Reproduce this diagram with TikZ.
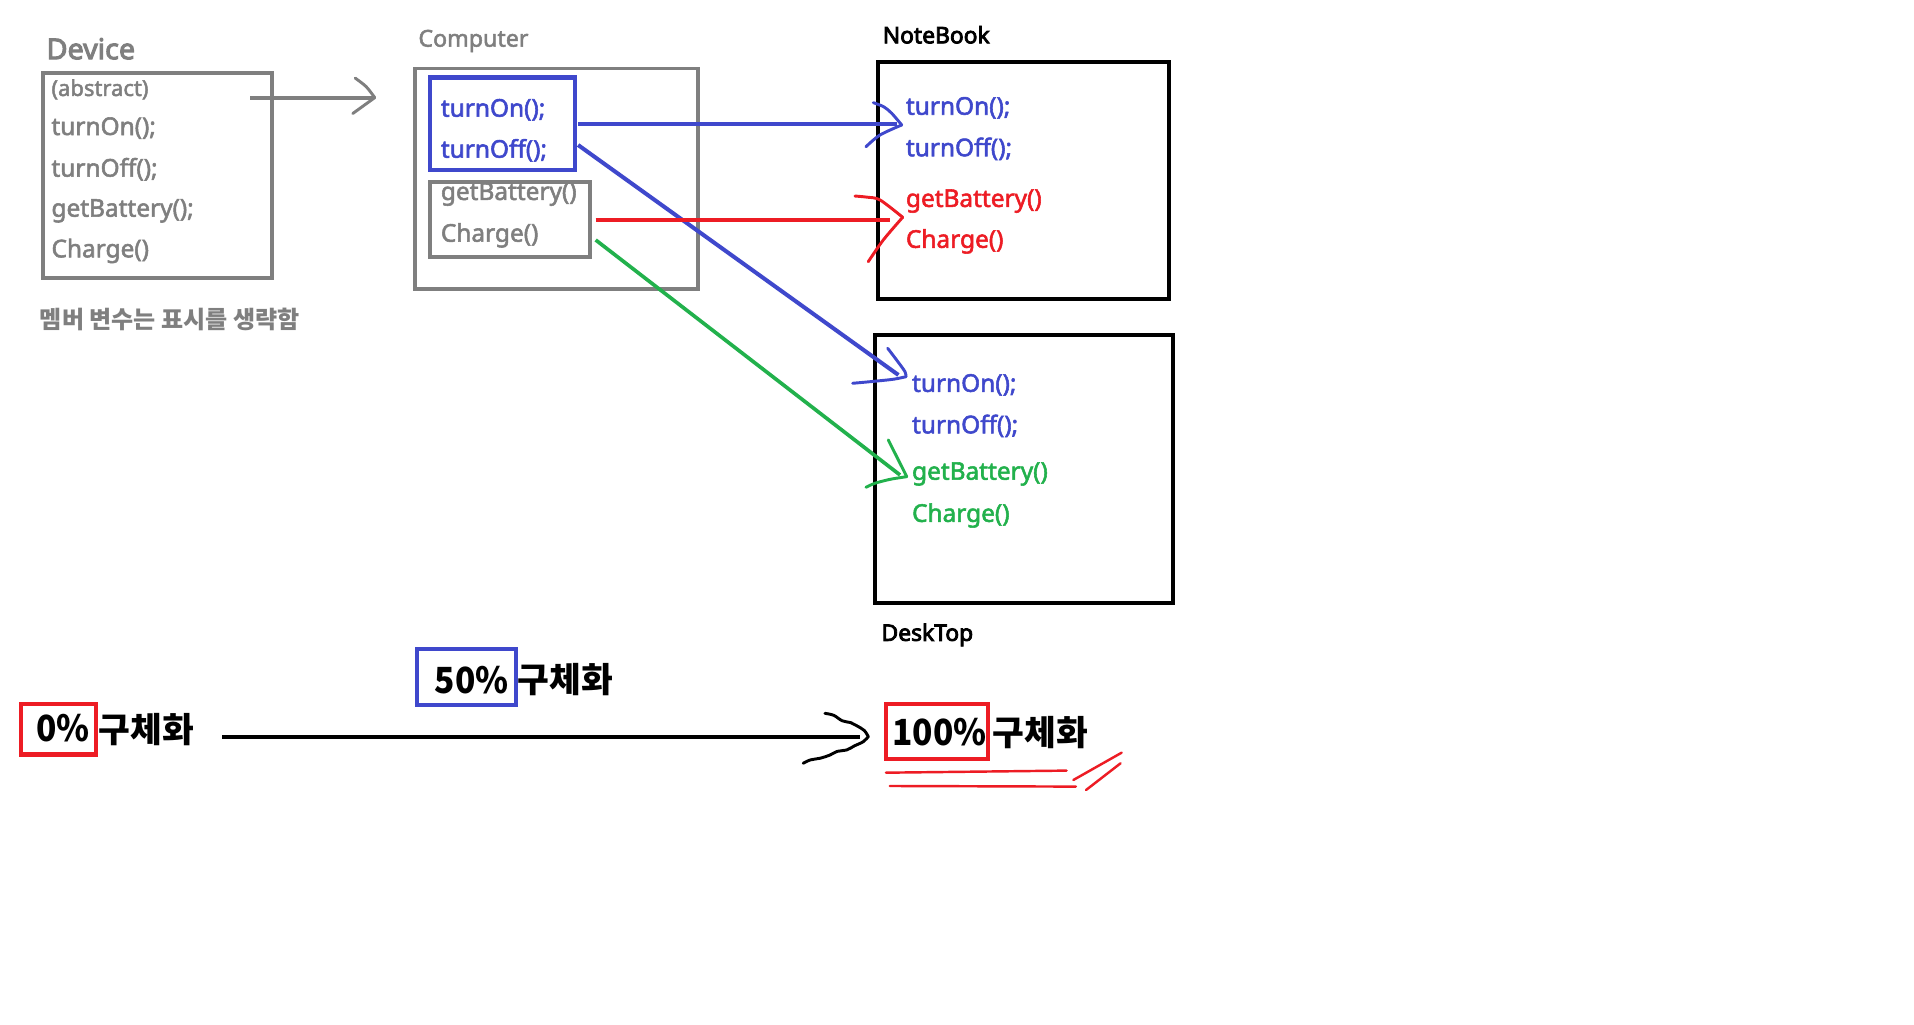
\documentclass[tikz,border=0pt]{standalone}
\usepackage{fontspec}
\setmainfont{Noto Sans}
\newfontfamily\semi[FakeBold=2.2]{Noto Sans}
\newfontfamily\heavy[FakeBold=3.5]{Noto Sans}
\newfontfamily\kr{Noto Sans CJK KR}
\newfontfamily\krn[FakeStretch=0.93]{Noto Sans CJK KR}
\definecolor{pgray}{HTML}{7F7F7F}
\definecolor{pblue}{HTML}{3F48CC}
\definecolor{pred}{HTML}{ED1C24}
\definecolor{pgreen}{HTML}{22B14C}
\tikzset{
  box/.style={draw, anchor=north west, inner sep=0pt, outer sep=0pt, line width=3.3pt},
  meth/.style={anchor=base west, inner sep=0pt, font=\semi\fontsize{20}{20}\selectfont},
  ttl/.style={anchor=base west, inner sep=0pt, font=\heavy\fontsize{18.7}{18.7}\selectfont},
  big/.style={anchor=base west, inner sep=0pt, font=\krn\bfseries\fontsize{29.5}{29.5}\selectfont},
  hng/.style={anchor=base west, inner sep=0pt, font=\kr\bfseries\fontsize{28.3}{28.3}\selectfont},
  conn/.style={line width=3.3pt},
  head/.style={line width=2.4pt, line cap=round, line join=round},
}
\begin{document}
\begin{tikzpicture}[x=1pt,y=-1pt]
\fill[white] (0,0) rectangle (1568,839.7);
\useasboundingbox (0,0) rectangle (1568,839.7);

% ---------- Device ----------
\node[anchor=base west, inner sep=0pt, text=pgray, font=\heavy\fontsize{23.5}{23.5}\selectfont] (devlbl) at (38,48.5) {Device};
\node[box, draw=pgray, minimum width=187.5pt, minimum height=168.5pt] (dev) at (35,59.5) {};
\node[anchor=base west, inner sep=0pt, text=pgray, font=\semi\fontsize{18}{18}\selectfont] (devabs) at (42,78.6) {(abstract)};
\node[meth, text=pgray] (devon) at (42,110.6) {turnOn();};
\node[meth, text=pgray] (devoff) at (42,144.7) {turnOff();};
\node[meth, text=pgray] (devbat) at (42,177.5) {getBattery();};
\node[meth, text=pgray] (devchg) at (42,210.8) {Charge()};
\node[anchor=base west, inner sep=0pt, text=pgray, font=\kr\bfseries\fontsize{19.7}{19.7}\selectfont] (memo) at (32.5,269.5)
  {멤버 변수는 표시를 생략함};

% ---------- Computer ----------
\node[anchor=base west, inner sep=0pt, text=pgray, font=\semi\fontsize{19}{19}\selectfont] (comlbl) at (342.6,38.2) {Computer};
\node[box, draw=pgray, line width=3pt, minimum width=232pt, minimum height=181pt] (com) at (340,56) {};
\node[meth, text=pblue] (comon) at (361,95.6) {turnOn();};
\node[meth, text=pblue] (comoff) at (361,129.2) {turnOff();};
\node[box, draw=pblue, minimum width=118.5pt, minimum height=75.5pt] (comblue) at (352.5,63.5) {};
\node[meth, text=pgray] (combat) at (361,163.8) {getBattery()};
\node[meth, text=pgray] (comchg) at (361,198) {Charge()};
\node[box, draw=pgray, line width=3pt, minimum width=131.5pt, minimum height=61.5pt] (comgray) at (352,149) {};

% ---------- NoteBook ----------
\node[ttl] (nblbl) at (723,35.5) {NoteBook};
\node[box, draw=black, line width=3.5pt, minimum width=238.6pt, minimum height=194.3pt] (nb) at (719.3,50.5) {};
\node[meth, text=pblue] (nbon) at (742,94) {turnOn();};
\node[meth, text=pblue] (nboff) at (742,128) {turnOff();};
\node[meth, text=pred] (nbbat) at (742,169.5) {getBattery()};
\node[meth, text=pred] (nbchg) at (742,203) {Charge()};

% ---------- DeskTop ----------
\node[box, draw=black, line width=3.5pt, minimum width=244pt, minimum height=219.9pt] (dt) at (717.1,274.2) {};
\node[meth, text=pblue] (dton) at (747,321) {turnOn();};
\node[meth, text=pblue] (dtoff) at (747,355) {turnOff();};
\node[meth, text=pgreen] (dtbat) at (747,393) {getBattery()};
\node[meth, text=pgreen] (dtchg) at (747,427.5) {Charge()};
\node[ttl] (dtlbl) at (722,525) {DeskTop};

% ---------- connector end points ----------
\coordinate (ga1) at (205,80);
\coordinate (ga2) at (306,80);
\coordinate (bh1) at (473.6,101.6);
\coordinate (bh2) at (734.5,101.6);
\coordinate (bd1) at (473.6,118.8);
\coordinate (bd2) at (736,307.2);
\coordinate (rd1) at (488,180.2);
\coordinate (rd2) at (729,180.2);
\coordinate (gd1) at (488,196.6);
\coordinate (gd2) at (737.3,389.1);
\coordinate (k1) at (182,603.5);
\coordinate (k2) at (704.5,603.5);

% ---------- connectors ----------
\draw[pgray, conn] (ga1) -- (ga2);
\draw[pgray, head] plot[smooth] coordinates {(291,64) (300,71) (307,80)};
\draw[pgray, head] plot[smooth] coordinates {(307,80) (298,86.5) (289,93)};

\draw[pblue, conn] (bh1) -- (bh2);
\draw[pblue, head] plot[smooth] coordinates {(715.4,84.1) (724,87.5) (730.5,92.8) (738.7,102.4)};
\draw[pblue, head] plot[smooth] coordinates {(738.7,102.4) (720.9,110.6) (709.4,120.2)};

\draw[pblue, conn] (bd1) -- (bd2);
\draw[pblue, head] plot[smooth] coordinates {(727.2,285.3) (734.5,294.9) (741.4,304.5) (742.2,308.6)};
\draw[pblue, head] plot[smooth] coordinates {(742.2,308.6) (731.8,310.7) (712.7,312.7) (698.5,314)};

\draw[pred, line width=2.8pt] (rd1) -- (rd2);
\draw[pred, head] plot[smooth] coordinates {(700.4,160.6) (710,161.5) (720.9,163.8) (739.5,178)};
\draw[pred, head] plot[smooth] coordinates {(739.5,178) (723.6,196.6) (711.3,214.4)};

\draw[pgreen, line width=3pt] (gd1) -- (gd2);
\draw[pgreen, head] plot[smooth] coordinates {(727.7,360.4) (737.3,379.5) (742.8,390.5)};
\draw[pgreen, head] plot[smooth] coordinates {(742.8,390.5) (729.1,392.7) (716.8,395.9) (709.4,399.2)};

% ---------- bottom scale ----------
\node[big] (p0) at (29.4,607.6) {0\%};
\node[box, draw=pred, minimum width=61.9pt, minimum height=41.7pt] (p0box) at (17,576.4) {};
\node[hng] (h0) at (80.5,608) {구체화};

\node[big] (p50) at (356,568) {50\%};
\node[box, draw=pblue, minimum width=81.2pt, minimum height=45.4pt] (p50box) at (341.4,531.9) {};
\node[hng] (h50) at (424,567.5) {구체화};

\node[big] (p100) at (731,610.9) {100\%};
\node[box, draw=pred, minimum width=83pt, minimum height=45.1pt] (p100box) at (726.1,577) {};
\node[hng] (h100) at (813,611) {구체화};

\draw[black, conn] (k1) -- (k2);
\draw[black, head] plot[smooth, tension=0.6] coordinates {(675.8,584.4) (683,586) (690,590.5) (697,592) (701.8,594.5) (708,598.4) (711.3,603.5)};
\draw[black, head] plot[smooth, tension=0.6] coordinates {(711.3,603.5) (707.2,607.6) (700,611) (693.6,614.4) (686,615.5) (680,618.5) (671.7,621.2) (664,622.5) (658,625.3)};

% red emphasis strokes
\draw[pred, line width=2pt, line cap=round] (725.8,633) -- (873.8,631.3);
\draw[pred, line width=2pt, line cap=round] (729,643.9) -- (881.4,644.4);
\draw[pred, line width=2pt, line cap=round] (879.3,639) -- (918.9,616.6);
\draw[pred, line width=2pt, line cap=round] (889.7,647.2) -- (918,625.3);
\end{tikzpicture}
\end{document}
